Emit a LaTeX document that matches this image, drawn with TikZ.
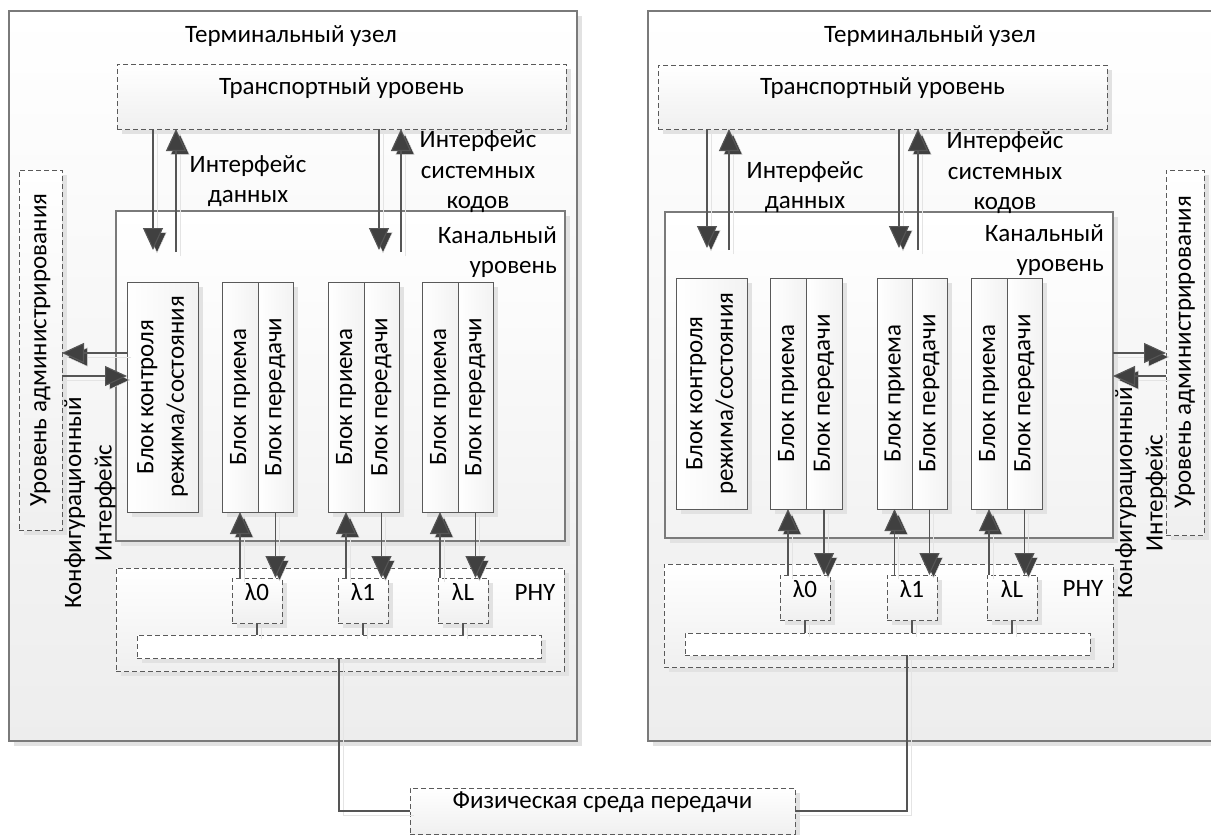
\documentclass[tikz,border=0pt]{standalone}
\usepackage{fontspec}
\setmainfont{Carlito}
\usetikzlibrary{arrows.meta,shadows,fit}

\definecolor{frame}{HTML}{7A7A7A}
\definecolor{dashline}{HTML}{5A5A5A}
\definecolor{wire}{HTML}{555555}
\definecolor{tipgray}{HTML}{404040}
\definecolor{shade}{HTML}{E2E2E2}
\definecolor{wireshade}{HTML}{E4E4E4}

\tikzset{
  base/.style={inner sep=0pt, outer sep=0pt,
    drop shadow={shadow xshift=5pt, shadow yshift=-5pt, fill=shade, opacity=1}},
  nodebox/.style={base, draw=frame, line width=1.2pt, top color=white, bottom color=black!7},
  layerbox/.style={base, draw=frame, line width=1.1pt, top color=white, bottom color=black!5},
  unitbox/.style={base, draw=dashline, line width=1pt, left color=white, right color=black!5},
  dashbox/.style={base, draw=dashline, line width=0.9pt, dash pattern=on 5pt off 3pt,
    top color=white, bottom color=black!6},
  lbl/.style={inner sep=0pt, align=center},
  rot/.style={lbl, rotate=90},
  conn/.style={draw=wire, line width=1.1pt,
    -{Triangle[length=22pt, width=20pt, fill=tipgray]},
    preaction={draw=wireshade, transform canvas={shift={(4pt,-4pt)}}}},
  plain/.style={draw=wire, line width=1.1pt,
    preaction={draw=wireshade, transform canvas={shift={(4pt,-4pt)}}}},
}

\begin{document}
\begin{tikzpicture}[x=1pt, y=-1pt, every node/.append style={font=\fontsize{25}{30.5}\selectfont}]
\useasboundingbox (0,0) rectangle (1211,835);

% ---------------- left terminal node ----------------
\node[nodebox, fit={(9,11) (577,741)}] (L) {};
\node[lbl] (Ltitle) at (291,36) {Терминальный узел};
\node[dashbox, fit={(117,64) (566,129)}] (LT) {Транспортный уровень};
\node[layerbox, fit={(116,211) (565,541)}] (LK) {};
\node[lbl, align=right, anchor=east] (LKt) at (557,252) {Канальный\\уровень};
\node[lbl] (LIdata) at (248,181) {Интерфейс\\данных};
\node[lbl] (LIsys) at (478,172) {Интерфейс\\системных\\кодов};

\node[unitbox, fit={(127,282) (198,512)}] (LC) {};
\node[rot] (LCt) at (LC.center) {Блок контроля\\режима/состояния};
\node[unitbox, fit={(222,282) (258,512)}] (LR1) {};
\node[unitbox, fit={(258,282) (293,512)}] (LX1) {};
\node[unitbox, fit={(328,282) (364,512)}] (LR2) {};
\node[unitbox, fit={(364,282) (399,512)}] (LX2) {};
\node[unitbox, fit={(422,282) (458,512)}] (LR3) {};
\node[unitbox, fit={(458,282) (493,512)}] (LX3) {};
\foreach \b in {1,2,3} {
  \node[rot] (LR\b t) at (LR\b.center) {Блок приема};
  \node[rot] (LX\b t) at (LX\b.center) {Блок передачи};
}

\node[dashbox, fit={(19,170) (62,530)}] (LA) {};
\node[rot] (LAt) at (LA.center) {Уровень администрирования};
\node[rot] (LCfg) at (90,503) {Конфигурационный\\Интерфейс};

\node[dashbox, fit={(116,568) (564,671)}] (LP) {};
\node[lbl] (LPt) at (535,592) {PHY};
\node[dashbox, fit={(232,578) (282,623)}] (L0) {λ0};
\node[dashbox, fit={(338,578) (388,623)}] (L1) {λ1};
\node[dashbox, fit={(438,578) (488,623)}] (LL) {λL};
\node[dashbox, top color=white, bottom color=white, fit={(137,635) (541,658)}] (LB) {};

% ---------------- right terminal node ----------------
\node[nodebox, fit={(648,11) (1218,741)}] (R) {};
\node[lbl] (Rtitle) at (930,36) {Терминальный узел};
\node[dashbox, fit={(658,65) (1107,129)}] (RT) {Транспортный уровень};
\node[layerbox, fit={(665,212) (1113,538)}] (RK) {};
\node[lbl, align=right, anchor=east] (RKt) at (1104,250) {Канальный\\уровень};
\node[lbl] (RIdata) at (805,187) {Интерфейс\\данных};
\node[lbl] (RIsys) at (1005,173) {Интерфейс\\системных\\кодов};

\node[unitbox, fit={(676,278) (747,509)}] (RC) {};
\node[rot] (RCt) at (RC.center) {Блок контроля\\режима/состояния};
\node[unitbox, fit={(770,278) (806,509)}] (RR1) {};
\node[unitbox, fit={(806,278) (842,509)}] (RX1) {};
\node[unitbox, fit={(877,278) (912,509)}] (RR2) {};
\node[unitbox, fit={(912,278) (947,509)}] (RX2) {};
\node[unitbox, fit={(971,278) (1007,509)}] (RR3) {};
\node[unitbox, fit={(1007,278) (1042,509)}] (RX3) {};
\foreach \b in {1,2,3} {
  \node[rot] (RR\b t) at (RR\b.center) {Блок приема};
  \node[rot] (RX\b t) at (RX\b.center) {Блок передачи};
}

\node[dashbox, fit={(1166,170) (1204,535)}] (RA) {};
\node[rot] (RAt) at (RA.center) {Уровень администрирования};
\node[rot] (RCfg) at (1141,493) {Конфигурационный\\Интерфейс};

\node[dashbox, fit={(664,564) (1113,667)}] (RP) {};
\node[lbl] (RPt) at (1083,588) {PHY};
\node[dashbox, fit={(780,575) (830,620)}] (R0) {λ0};
\node[dashbox, fit={(887,575) (937,620)}] (R1) {λ1};
\node[dashbox, fit={(987,575) (1037,620)}] (RL) {λL};
\node[dashbox, top color=white, bottom color=white, fit={(685,633) (1090,655)}] (RB) {};

% ---------------- shared medium ----------------
\node[dashbox, fit={(410,788) (795,834)}] (M) {Физическая среда передачи};

% ---------------- connectors, left ----------------
\coordinate (ld1) at (153,250);
\coordinate (lu1) at (176,252);
\coordinate (ld2) at (379,250);
\coordinate (lu2) at (401,252);
\draw[conn] (LT.south -| ld1) -- (ld1);
\draw[conn] (lu1) -- (LT.south -| lu1);
\draw[conn] (LT.south -| ld2) -- (ld2);
\draw[conn] (lu2) -- (LT.south -| lu2);

\coordinate (la1) at (0,353);
\coordinate (la2) at (0,376);
\draw[conn] (LC.west |- la1) -- (LA.east |- la1);
\draw[conn] (LA.east |- la2) -- (LC.west |- la2);

\draw[conn] (LR1.south |- L0.north) -- (LR1.south);
\draw[conn] (LX1.south) -- (LX1.south |- L0.north);
\draw[conn] (LR2.south |- L1.north) -- (LR2.south);
\draw[conn] (LX2.south) -- (LX2.south |- L1.north);
\draw[conn] (LR3.south |- LL.north) -- (LR3.south);
\draw[conn] (LX3.south) -- (LX3.south |- LL.north);

\draw[plain] (L0.south) -- (L0.south |- LB.north);
\draw[plain] (L1.south) -- (L1.south |- LB.north);
\draw[plain] (LL.south) -- (LL.south |- LB.north);
\draw[plain] (LB.south) |- (M.west);

% ---------------- connectors, right ----------------
\coordinate (rd1) at (707,248);
\coordinate (ru1) at (729,250);
\coordinate (rd2) at (899,248);
\coordinate (ru2) at (918,250);
\draw[conn] (RT.south -| rd1) -- (rd1);
\draw[conn] (ru1) -- (RT.south -| ru1);
\draw[conn] (RT.south -| rd2) -- (rd2);
\draw[conn] (ru2) -- (RT.south -| ru2);

\draw[conn] (RK.east |- la1) -- (RA.west |- la1);
\draw[conn] (RA.west |- la2) -- (RK.east |- la2);

\draw[conn] (RR1.south |- R0.north) -- (RR1.south);
\draw[conn] (RX1.south) -- (RX1.south |- R0.north);
\draw[conn] (RR2.south |- R1.north) -- (RR2.south);
\draw[conn] (RX2.south) -- (RX2.south |- R1.north);
\draw[conn] (RR3.south |- RL.north) -- (RR3.south);
\draw[conn] (RX3.south) -- (RX3.south |- RL.north);

\draw[plain] (R0.south) -- (R0.south |- RB.north);
\draw[plain] (R1.south) -- (R1.south |- RB.north);
\draw[plain] (RL.south) -- (RL.south |- RB.north);
\coordinate (rbus) at (907,0);
\draw[plain] (RB.south -| rbus) |- (M.east);
\end{tikzpicture}
\end{document}
